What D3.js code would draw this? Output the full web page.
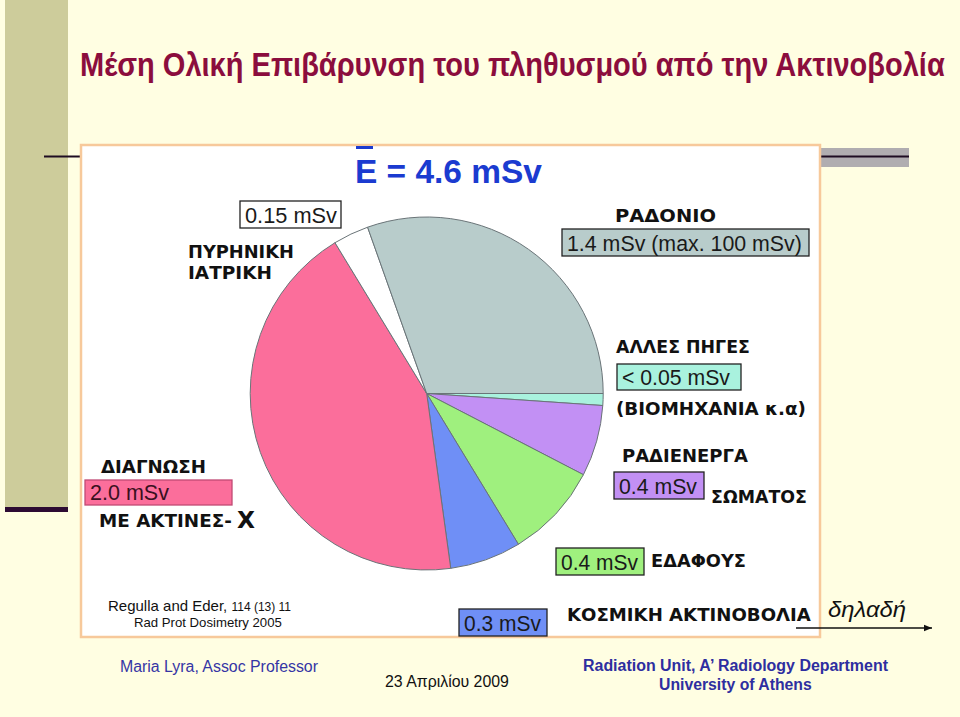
<!DOCTYPE html>
<html><head><meta charset="utf-8">
<script src="https://cdn.jsdelivr.net/npm/d3@7"></script>
<style>html,body{margin:0;padding:0;background:#fffee2;}svg{display:block;}</style>
</head><body>
<svg id="c" width="960" height="717"></svg>
<script>
// ---- data ----
const categories = ["ΑΛΛΕΣ ΠΗΓΕΣ", "ΡΑΔΙΕΝΕΡΓΑ ΣΩΜΑΤΟΣ", "ΕΔΑΦΟΥΣ", "ΚΟΣΜΙΚΗ ΑΚΤΙΝΟΒΟΛΙΑ", "ΔΙΑΓΝΩΣΗ ΜΕ ΑΚΤΙΝΕΣ-X", "ΠΥΡΗΝΙΚΗ ΙΑΤΡΙΚΗ", "ΡΑΔΟΝΙΟ"];
const values = [0.05, 0.3, 0.4, 0.3, 2.0, 0.15, 1.4];          // slice sizes (mSv) as drawn
const valueLabels = ["< 0.05 mSv", "0.4 mSv", "0.4 mSv", "0.3 mSv", "2.0 mSv", "0.15 mSv", "1.4 mSv (max. 100 mSv)"];
const colors = ["#a9f2de", "#c290f4", "#9ff07e", "#6f8ff6", "#fb6e9b", "#ffffff", "#b8cccb"];
const titleText = "Μέση Ολική Επιβάρυνση του πληθυσμού από την Ακτινοβολία";
const totalText = "E = 4.6 mSv";

const svg = d3.select("#c");
const boldG = "'DejaVu Sans', Verdana, sans-serif";
const arial = "'Liberation Sans', Arial, sans-serif";

// place a text at (x,y) and scale it horizontally to width w
function fit(el, x, y, w){
  el.attr("x",0).attr("y",0);
  const nat = el.node().getComputedTextLength();
  const s = w ? w/nat : 1;
  el.attr("transform",`translate(${x},${y}) scale(${s},1)`);
  return el;
}
function txt(t, x, y, w, opts){
  const el = svg.append("text").text(t)
    .attr("font-family",opts.family||arial).attr("font-size",opts.size||16)
    .attr("font-weight",opts.weight||"normal").attr("font-style",opts.style||"normal")
    .attr("fill",opts.fill||"#111");
  return fit(el,x,y,w);
}

// background decorations
svg.append("rect").attr("x",0).attr("y",0).attr("width",960).attr("height",717).attr("fill","#fffee2");
svg.append("rect").attr("x",5).attr("y",0).attr("width",63).attr("height",507).attr("fill","#cdcc9b");
svg.append("rect").attr("x",5).attr("y",507).attr("width",63).attr("height",5).attr("fill","#2d0b33");
svg.append("rect").attr("x",821).attr("y",148).attr("width",88).attr("height",19).attr("fill","#b0adb0");
svg.append("line").attr("x1",44).attr("x2",909).attr("y1",156.5).attr("y2",156.5).attr("stroke","#1e0c22").attr("stroke-width",2);

// title
txt(titleText,80,76,865,{size:34,weight:"bold",fill:"#8b0d3d"});

// white panel
svg.append("rect").attr("x",81).attr("y",145).attr("width",739).attr("height",492)
  .attr("fill","#ffffff").attr("stroke","#f7c99b").attr("stroke-width",2.5);

// total
txt(totalText,355,183,187,{size:34,weight:"bold",fill:"#1b3bd0"});
svg.append("rect").attr("x",356).attr("y",146).attr("width",17).attr("height",3).attr("fill","#1b3bd0");

// pie
const cx = 426.7, cy = 393.5, r = 176.5;
const pie = d3.pie().sort(null).value(d => d).startAngle(Math.PI/2).endAngle(Math.PI/2 + 2*Math.PI);
const arc = d3.arc().innerRadius(0).outerRadius(r);
svg.append("g").attr("transform",`translate(${cx},${cy})`)
  .selectAll("path").data(pie(values)).join("path")
  .attr("d",arc).attr("fill",(d,i)=>colors[i]).attr("stroke","#6a7478").attr("stroke-width",1);

// helpers
function bold(t,x,y,w,fs){
  return txt(t,x,y,w,{family:boldG,weight:"bold",size:fs||17,fill:"#111"});
}
function box(i,x,y,w,h,tw,stroke,tcol){
  svg.append("rect").attr("x",x).attr("y",y).attr("width",w).attr("height",h)
    .attr("fill",colors[i]).attr("stroke",stroke||"#222").attr("stroke-width",1.3);
  txt(valueLabels[i],x+5,y+h-5,tw,{size:22,fill:tcol||"#1a1a1a"});
}

// labels
box(5,240,201,101,27,92);
bold("ΠΥΡΗΝΙΚΗ",188,258,106);
bold("ΙΑΤΡΙΚΗ",188,279,84);

bold("ΡΑΔΟΝΙΟ",615,222,101);
box(6,562,229,247,27,235);

bold("ΑΛΛΕΣ ΠΗΓΕΣ",616,353,134);
box(0,617,364,124,26,108);
bold("(ΒΙΟΜΗΧΑΝΙΑ κ.α)",616,415,190);

bold("ΡΑΔΙΕΝΕΡΓΑ",622,462,126);
box(1,614,472,90,27,78);
bold("ΣΩΜΑΤΟΣ",711,503,96);

bold("ΔΙΑΓΝΩΣΗ",101,473,105);
box(4,85,480,147,25,79,"#c04a74","#3a1020");
bold("ΜΕ ΑΚΤΙΝΕΣ-",99,527,133);
bold("X",237,528,18,23);

box(2,556,548,88,27,77);
bold("ΕΔΑΦΟΥΣ",651,567,95);

box(3,459,609,88,27,77);
bold("ΚΟΣΜΙΚΗ ΑΚΤΙΝΟΒΟΛΙΑ",567,621,244);

// δηλαδή + arrow
txt("δηλαδή",828,617,78,{size:22,style:"italic"});
svg.append("defs").append("marker").attr("id","ah").attr("viewBox","0 0 10 10").attr("refX",10).attr("refY",5)
  .attr("markerWidth",8).attr("markerHeight",8).attr("orient","auto").attr("markerUnits","userSpaceOnUse")
  .append("path").attr("d","M0,1 L10,5 L0,9 Z").attr("fill","#111");
svg.append("line").attr("x1",796).attr("x2",932).attr("y1",628).attr("y2",628)
  .attr("stroke","#111").attr("stroke-width",1.3).attr("marker-end","url(#ah)");

// reference
const ref = svg.append("text").attr("x",108).attr("y",611).attr("font-family",arial).attr("fill","#111");
ref.append("tspan").attr("font-size",15).text("Regulla and Eder, ");
ref.append("tspan").attr("font-size",12).text("114 (13) 11");
txt("Rad Prot Dosimetry 2005",134,627,148,{size:12.5});

// footer
txt("Maria Lyra, Assoc Professor",120,672,198,{size:16,fill:"#3535a5"});
txt("23 Απριλίου 2009",385,687,124,{size:16});
txt("Radiation Unit, A’ Radiology Department",583,671,305,{size:16,weight:"bold",fill:"#2e2ea0"});
txt("University of Athens",659,690,153,{size:16,weight:"bold",fill:"#2e2ea0"});
</script>
</body></html>
